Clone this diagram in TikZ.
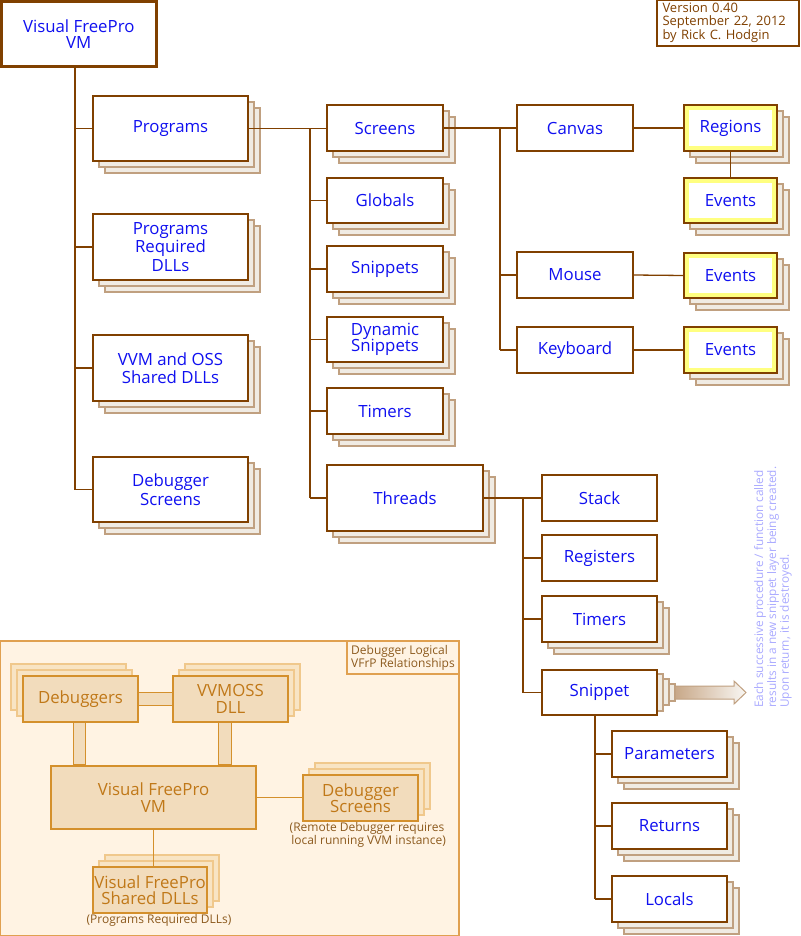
\documentclass[tikz,border=0pt]{standalone}
\usepackage{fontspec}
\setmainfont{Open Sans}
\usetikzlibrary{calc}
\definecolor{brn}{RGB}{128,64,0}
\definecolor{blu}{RGB}{16,16,240}
\definecolor{shdf}{RGB}{240,235,227}
\definecolor{shdd}{RGB}{192,160,128}
\definecolor{yel}{RGB}{255,255,128}
\definecolor{pnl}{RGB}{255,243,227}
\definecolor{pbr}{RGB}{224,160,80}
\definecolor{dbf}{RGB}{242,220,188}
\definecolor{dbd}{RGB}{212,144,44}
\definecolor{dbt}{RGB}{192,120,24}
\definecolor{dsf}{RGB}{248,228,196}
\definecolor{dsd}{RGB}{240,200,140}
\definecolor{lbt}{RGB}{140,90,30}
\definecolor{rot}{RGB}{170,170,255}
\definecolor{arr}{RGB}{200,168,136}
\newcommand{\mainf}{\fontsize{16.8}{18.5}\selectfont}
\newcommand{\smallf}{\fontsize{13}{12.6}\selectfont}
\newcommand{\capf}{\fontsize{12}{11.5}\selectfont}
\tikzset{
  box/.style={draw=brn, fill=white, line width=1.3pt, text=blu, inner sep=0pt, align=center, font=\mainf},
  shd/.style={draw=shdd, fill=shdf, line width=1.2pt},
  ln/.style={draw=brn, line width=1.3pt},
  dbox/.style={draw=dbd, fill=dbf, line width=1.2pt, text=dbt, inner sep=0pt, align=center, font=\mainf},
  dshd/.style={draw=dsd, fill=dsf, line width=1.2pt},
  bar/.style={draw=dbd, fill=dbf, line width=1.2pt},
  yelb/.style={draw=yel, line width=4pt},
}
% plain box: name x1 y1 x2 y2 text
\newcommand{\bx}[6]{%
  \node[box, minimum width={#4-#2}, minimum height={#5-#3}] (#1) at ({(#2+#4)/2},{(#3+#5)/2}) {#6};}
% stacked box
\newcommand{\sbx}[6]{%
  \draw[shd] ({#2+12},{#3+12}) rectangle ({#4+12},{#5+12});
  \draw[shd] ({#2+6},{#3+6}) rectangle ({#4+6},{#5+6});
  \bx{#1}{#2}{#3}{#4}{#5}{#6}}
% stacked yellow box
\newcommand{\ybx}[6]{%
  \sbx{#1}{#2}{#3}{#4}{#5}{#6}
  \draw[yelb] ([shift={(3.6,3.6)}]#1.north west) rectangle ([shift={(-3.6,-3.6)}]#1.south east);}
% debugger panel stacked box: name x1 y1 x2 y2 dx text
\newcommand{\dbx}[7]{%
  \draw[dshd] ({#2+2*#6},{#3-12}) rectangle ({#4+2*#6},{#5-12});
  \draw[dshd] ({#2+#6},{#3-6}) rectangle ({#4+#6},{#5-6});
  \node[dbox, minimum width={#4-#2}, minimum height={#5-#3}] (#1) at ({(#2+#4)/2},{(#3+#5)/2}) {#7};}
\begin{document}
\begin{tikzpicture}[x=1pt,y=-1pt]
\useasboundingbox (0,0) rectangle (800,936);
\fill[white] (0,0) rectangle (800,936);

% ---------- main tree ----------
\node[box, line width=3pt, minimum width=154.5, minimum height=65.5] (vm) at (78.75,34.25) {Visual FreePro\\[-2pt]VM};

\node[draw=brn, line width=1.2pt, fill=white, text=brn, font=\smallf, align=left, inner sep=0pt,
      minimum width=142, minimum height=46, text width=131] (ver) at (728,23) {Version 0.40\\September 22, 2012\\by Rick C. Hodgin};

\sbx{prog}{93}{96}{248}{161}{Programs}
\sbx{preq}{93}{214}{248}{280}{Programs\\Required\\DLLs}
\sbx{vvm}{93}{335}{248}{401}{VVM and OSS\\Shared DLLs}
\sbx{dbgs}{93}{457}{248}{522}{Debugger\\Screens}

\sbx{scr}{327}{105}{443}{151}{Screens}
\sbx{glob}{327}{178}{443}{223}{Globals}
\sbx{snips}{327}{246}{443}{292}{Snippets}
\sbx{dyn}{327}{317}{443}{362}{Dynamic\\[-3pt]Snippets}
\sbx{tim}{327}{388}{443}{434}{Timers}
\sbx{thr}{327}{465}{483}{531}{Threads}

\bx{canv}{517}{105}{633}{151}{Canvas}
\bx{mouse}{517}{252}{633}{298}{Mouse}
\bx{kbd}{517}{327}{633}{373}{Keyboard}

\ybx{reg}{684}{105}{777}{151}{Regions}
\ybx{ev1}{684}{178}{777}{223}{Events}
\ybx{ev2}{684}{253}{777}{298}{Events}
\ybx{ev3}{684}{327}{777}{373}{Events}

\bx{stack}{542}{475}{657}{521}{Stack}
\bx{regs}{542}{535}{657}{581}{Registers}
\sbx{ttim}{542}{596}{657}{642}{Timers}

% snippet layered shadow + arrow
\draw[shd] (669,684) rectangle (675,701);
\draw[shd] (663,679) rectangle (669,705);
\draw[shd] (657,674) rectangle (663,711);
\shade[left color=arr, right color=shdf!40, draw=shdd, line width=1pt]
  (675,686) -- (734,686) -- (734,681) -- (746,692.5) -- (734,704) -- (734,699) -- (675,699) -- cycle;
\bx{snip}{542}{670}{657}{715}{Snippet}

\sbx{par}{612}{731}{727}{777}{Parameters}
\sbx{ret}{612}{803}{727}{849}{Returns}
\sbx{loc}{612}{876}{727}{922}{Locals}

\node[rotate=90, anchor=north west, text=rot, font=\fontsize{11.8}{10.8}\selectfont, align=left, inner sep=0pt] (note) at (754,708)
  {Each successive procedure / function called\\results in a new snippet layer being created.\\Upon return, it is destroyed.};

% connectors
\coordinate (t1) at (75,0);
\coordinate (t2) at (310,0);
\coordinate (t3) at (500,0);
\coordinate (t4) at (523,0);
\coordinate (t5) at (595,0);
\draw[ln] (vm.south -| t1) -- (t1 |- dbgs.west);
\foreach \n in {prog,preq,vvm,dbgs} \draw[ln] (t1 |- \n.west) -- (\n.west);
\draw[ln] (prog.east) -- (prog.east -| scr.west);
\draw[ln] (t2 |- prog.east) -- (t2 |- thr.west);
\foreach \n in {glob,snips,dyn,tim,thr} \draw[ln] (t2 |- \n.west) -- (\n.west);
\draw[ln] (scr.east) -- (canv.west);
\draw[ln] (t3 |- scr.east) -- (t3 |- kbd.west);
\foreach \n in {mouse,kbd} \draw[ln] (t3 |- \n.west) -- (\n.west);
\draw[ln] (canv.east) -- (reg.west);
\draw[ln] (reg.south) -- (ev1.north);
\draw[ln] (mouse.east) -- (ev2.west);
\draw[ln] (kbd.east) -- (ev3.west);
\draw[ln] (thr.east) -- (stack.west);
\draw[ln] (t4 |- thr.east) -- (t4 |- snip.west);
\foreach \n in {regs,ttim,snip} \draw[ln] (t4 |- \n.west) -- (\n.west);
\draw[ln] (snip.south -| t5) -- (t5 |- loc.west);
\foreach \n in {par,ret,loc} \draw[ln] (t5 |- \n.west) -- (\n.west);

% ---------- debugger panel ----------
\draw[draw=pbr, fill=pnl, line width=1.2pt] (0.6,641) rectangle (459,935.4);
\node[draw=pbr, line width=1.2pt, fill=pnl, text=lbt, font=\capf, align=left, inner sep=0pt,
      minimum width=112, minimum height=33] (lbl) at (403,657.5) {Debugger Logical\\VFrP Relationships};

\dbx{dbg}{23}{676}{138}{722}{-6}{Debuggers}
\dbx{vmo}{173}{676}{288}{722}{6}{VVMOSS\\[-2pt]DLL}
\node[dbox, line width=2.5pt, minimum width=205, minimum height=63] (pvm) at (153.5,797.5) {Visual FreePro\\[-2pt]VM};
\dbx{pds}{303}{775}{418}{821}{6}{Debugger\\[-3pt]Screens}
\dbx{pvfp}{93}{867}{207}{913}{6}{Visual FreePro\\[-3pt]Shared DLLs}

\filldraw[bar] ($(dbg.east)+(0,-6.5)$) rectangle ($(vmo.west)+(0,6.5)$);
\filldraw[bar] ($(dbg.south west)+(51,0)$) rectangle ($(pvm.north west)+(36,0)$);
\filldraw[bar] ($(vmo.south west)+(46,0)$) rectangle ($(pvm.north west)+(182,0)$);
\draw[draw=dbd, line width=1.2pt] (pvm.east) -- (pds.west |- pvm.east);
\draw[draw=dbd, line width=1.2pt] (pvm.south) -- (pvm.south |- pvfp.north);

\node[text=lbt, font=\capf, align=center, inner sep=0pt] (pdscap) at (367,834.5) {(Remote Debugger requires\\\ local running VVM instance)};
\node[text=lbt, font=\capf, inner sep=0pt] (pvfpcap) at (159,920) {(Programs Required DLLs)};
\end{tikzpicture}
\end{document}
